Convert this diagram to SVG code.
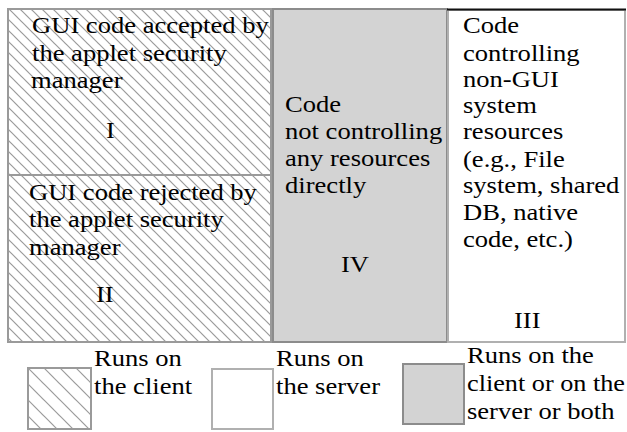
<svg xmlns="http://www.w3.org/2000/svg" width="627" height="432" viewBox="0 0 627 432">
<defs>
<pattern id="hatch" patternUnits="userSpaceOnUse" width="11" height="11">
<line x1="-1" y1="-1" x2="12" y2="12" stroke="#9a9a9a" stroke-width="1.2"/>
<line x1="-1" y1="10" x2="1" y2="12" stroke="#9a9a9a" stroke-width="1.2"/>
<line x1="10" y1="-1" x2="12" y2="1" stroke="#9a9a9a" stroke-width="1.2"/>
</pattern>
<pattern id="hatchL" patternUnits="userSpaceOnUse" width="16" height="16" x="28" y="368">
<line x1="-1" y1="-1" x2="17" y2="17" stroke="#9a9a9a" stroke-width="1.2"/>
<line x1="-1" y1="15" x2="1" y2="17" stroke="#9a9a9a" stroke-width="1.2"/>
<line x1="15" y1="-1" x2="17" y2="1" stroke="#9a9a9a" stroke-width="1.2"/>
</pattern>
</defs>
<style>
text{font-family:"Liberation Serif","Times New Roman",serif;font-size:23px;fill:#000}
.hb{fill:url(#hatch);stroke:#9a9a9a;stroke-width:2}
.gb{fill:#d3d3d3;stroke:#8c8c8c;stroke-width:2}
.wb{fill:#fff;stroke:#b0b0b0;stroke-width:2}
</style>
<rect width="627" height="432" fill="#fff"/>
<g id="region-I">
<rect class="hb" x="8" y="9" width="263" height="166"/>
<text x="32" y="33" textLength="236.8" lengthAdjust="spacingAndGlyphs">GUI code accepted by</text>
<text x="32" y="61" textLength="194.8" lengthAdjust="spacingAndGlyphs">the applet security</text>
<text x="31" y="88" textLength="91.5" lengthAdjust="spacingAndGlyphs">manager</text>
<text x="106" y="138" textLength="8.8" lengthAdjust="spacingAndGlyphs">I</text>
</g>
<g id="region-II">
<rect class="hb" x="8" y="175" width="263" height="167"/>
<text x="29" y="200" textLength="227.9" lengthAdjust="spacingAndGlyphs">GUI code rejected by</text>
<text x="29" y="227" textLength="194.8" lengthAdjust="spacingAndGlyphs">the applet security</text>
<text x="29" y="255" textLength="91.5" lengthAdjust="spacingAndGlyphs">manager</text>
<text x="96" y="302" textLength="17.7" lengthAdjust="spacingAndGlyphs">II</text>
</g>
<g id="region-IV">
<rect class="gb" x="273" y="9" width="174" height="333"/>
<text x="285" y="112" textLength="56.1" lengthAdjust="spacingAndGlyphs">Code</text>
<text x="285" y="139" textLength="157.2" lengthAdjust="spacingAndGlyphs">not controlling</text>
<text x="285" y="166" textLength="145.3" lengthAdjust="spacingAndGlyphs">any resources</text>
<text x="285" y="193" textLength="81.2" lengthAdjust="spacingAndGlyphs">directly</text>
<text x="341" y="272" textLength="28" lengthAdjust="spacingAndGlyphs">IV</text>
</g>
<g id="region-III">
<rect class="wb" x="448" y="10" width="177" height="332"/>
<line x1="447" y1="9.5" x2="626" y2="9.5" stroke="#111" stroke-width="2"/>
<text x="463" y="33" textLength="56.1" lengthAdjust="spacingAndGlyphs">Code</text>
<text x="463" y="61" textLength="116.6" lengthAdjust="spacingAndGlyphs">controlling</text>
<text x="463" y="87" textLength="95.9" lengthAdjust="spacingAndGlyphs">non-GUI</text>
<text x="463" y="113" textLength="73.8" lengthAdjust="spacingAndGlyphs">system</text>
<text x="463" y="139" textLength="100.3" lengthAdjust="spacingAndGlyphs">resources</text>
<text x="463" y="167" textLength="101.8" lengthAdjust="spacingAndGlyphs">(e.g., File</text>
<text x="463" y="193" textLength="156.4" lengthAdjust="spacingAndGlyphs">system, shared</text>
<text x="463" y="220" textLength="115.1" lengthAdjust="spacingAndGlyphs">DB, native</text>
<text x="463" y="247" textLength="109.9" lengthAdjust="spacingAndGlyphs">code, etc.)</text>
<text x="514" y="328" textLength="26.5" lengthAdjust="spacingAndGlyphs">III</text>
</g>
<g id="legend-client">
<rect x="28" y="368" width="63" height="61" fill="url(#hatchL)" stroke="#9a9a9a" stroke-width="2"/>
<text x="94" y="366" textLength="87.8" lengthAdjust="spacingAndGlyphs">Runs on</text>
<text x="94" y="394" textLength="98.1" lengthAdjust="spacingAndGlyphs">the client</text>
</g>
<g id="legend-server">
<rect x="212" y="369" width="61" height="60" fill="#fff" stroke="#b0b0b0" stroke-width="2"/>
<text x="276" y="366" textLength="87.8" lengthAdjust="spacingAndGlyphs">Runs on</text>
<text x="276" y="394" textLength="104" lengthAdjust="spacingAndGlyphs">the server</text>
</g>
<g id="legend-both">
<rect x="403" y="364" width="61" height="60" fill="#d3d3d3" stroke="#8c8c8c" stroke-width="2"/>
<text x="467" y="363" textLength="126.9" lengthAdjust="spacingAndGlyphs">Runs on the</text>
<text x="467" y="391" textLength="158" lengthAdjust="spacingAndGlyphs">client or on the</text>
<text x="467" y="419" textLength="147.5" lengthAdjust="spacingAndGlyphs">server or both</text>
</g>
<g id="connectors"/>
</svg>
